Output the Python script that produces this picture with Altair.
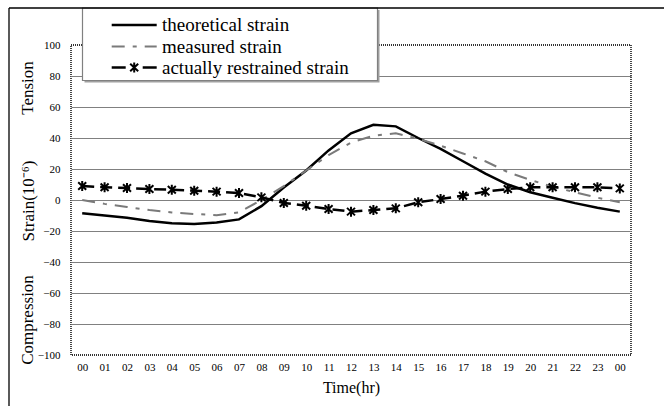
import json
import altair as alt
import pandas as pd

hours = ["00", "01", "02", "03", "04", "05", "06", "07", "08", "09", "10", "11",
         "12", "13", "14", "15", "16", "17", "18", "19", "20", "21", "22", "23", "00"]
theoretical = [-8.5, -10, -11.5, -13.5, -15, -15.5, -14.5, -12.5, -4, 8, 19, 32,
               43, 48.5, 47.5, 40, 33, 25, 17, 10, 5, 1.5, -2, -5, -7.5]
measured = [0, -2.5, -4.5, -6.5, -8, -9, -9.8, -8, 0, 9, 19, 29,
            37, 41.5, 43, 39.5, 35, 30, 25, 18, 13, 8.5, 5, 1.5, -1.5]
restrained = [9, 8.2, 7.7, 7.1, 6.6, 6, 5.4, 4.5, 1.7, -1.9, -3.7, -5.8,
              -7.5, -6.5, -5.4, -1.5, 0.6, 2.8, 5.4, 7.1, 8.2, 8.2, 8.2, 8.2, 7.5]
series_names = ["theoretical strain", "measured strain", "actually restrained strain"]
y_ticks = [-100, -80, -60, -40, -20, 0, 20, 40, 60, 80, 100]

idx = list(range(len(hours)))
df = pd.DataFrame({
    "idx": idx * 3,
    "value": theoretical + measured + restrained,
    "series": [series_names[0]] * len(idx) + [series_names[1]] * len(idx) + [series_names[2]] * len(idx),
})

FONT = "Liberation Serif"
STAR = "M0,-1L0,1M-0.8,-0.75L0.8,0.75M-0.8,0.75L0.8,-0.75"

X = alt.X("idx:Q",
          scale=alt.Scale(domain=[-0.5, len(hours) - 0.5], nice=False, zero=False),
          axis=alt.Axis(values=idx, labelExpr=f"{json.dumps(hours)}[datum.value]",
                        grid=False, ticks=False, domain=False, labelPadding=6,
                        labelFont=FONT, labelFontSize=11, labelColor="black",
                        title="Time(hr)", titleFont=FONT, titleFontSize=16,
                        titleFontWeight="normal", titleColor="black", titlePadding=7))
Y = alt.Y("value:Q",
          scale=alt.Scale(domain=[-100, 100], nice=False),
          axis=alt.Axis(values=y_ticks, grid=True, gridColor="#808080", gridWidth=1,
                        gridOpacity={"condition": {"test": "abs(datum.value) == 100", "value": 0}, "value": 1},
                        ticks=False, domain=False, labelPadding=11,
                        labelFont=FONT, labelFontSize=11, labelColor="black", title=None))

base = alt.Chart(df)
theo = base.transform_filter(alt.datum.series == series_names[0]).mark_line(
    color="black", strokeWidth=2.5).encode(x=X, y=Y)
meas = base.transform_filter(alt.datum.series == series_names[1]).mark_line(
    color="#7a7a7a", strokeWidth=2, strokeDash=[13, 8, 4, 8]).encode(x=X, y=Y)
rest = base.transform_filter(alt.datum.series == series_names[2]).mark_line(
    color="black", strokeWidth=2.5, strokeDash=[12, 6]).encode(x=X, y=Y)
rest_pts = base.transform_filter(alt.datum.series == series_names[2]).mark_point(
    shape=STAR, size=100, filled=False, stroke="black", strokeWidth=2, opacity=1).encode(x=X, y=Y)

one = pd.DataFrame({"k": [0]})
deco = alt.Chart(one)

# legend box
shadow = deco.mark_rect(fill="#a0a0a0").encode(
    x=alt.value(13.5), x2=alt.value(308.5), y=alt.value(-35), y2=alt.value(37.5))
box = deco.mark_rect(fill="white", stroke="#808080", strokeWidth=1.2).encode(
    x=alt.value(11.5), x2=alt.value(306.5), y=alt.value(-37), y2=alt.value(35.5))
row_y = [-20, 1.5, 22.5]
leg1 = deco.mark_rule(color="black", strokeWidth=2.5).encode(
    x=alt.value(40.7), x2=alt.value(85.7), y=alt.value(row_y[0]))
leg2 = deco.mark_rule(color="#7a7a7a", strokeWidth=2, strokeDash=[13, 8, 4, 8]).encode(
    x=alt.value(40.7), x2=alt.value(85.7), y=alt.value(row_y[1]))
leg3 = deco.mark_rule(color="black", strokeWidth=2.5, strokeDash=[14, 17, 14]).encode(
    x=alt.value(40.7), x2=alt.value(85.7), y=alt.value(row_y[2]))
leg3p = deco.mark_point(shape=STAR, size=100, filled=False, stroke="black", strokeWidth=2, opacity=1).encode(
    x=alt.value(63.2), y=alt.value(row_y[2]))
legtexts = [deco.mark_text(text=series_names[i], font=FONT, fontSize=19, align="left",
                           baseline="middle", color="black").encode(
    x=alt.value(91), y=alt.value(row_y[i])) for i in range(3)]

# outer frame
frame_top = deco.mark_rule(color="black", strokeWidth=1.3).encode(
    x=alt.value(-62), x2=alt.value(593), y=alt.value(-37))
frame_left = deco.mark_rule(color="black", strokeWidth=1.3).encode(
    x=alt.value(-62), y=alt.value(-37), y2=alt.value(361))

# y titles
ytitles = [
    deco.mark_text(text="Tension", font=FONT, fontSize=17, angle=270, align="center",
                   baseline="middle", color="black").encode(x=alt.value(-43), y=alt.value(43)),
    deco.mark_text(text="Strain(10\u207b\u2076)", font=FONT, fontSize=17, angle=270, align="center",
                   baseline="middle", color="black").encode(x=alt.value(-42), y=alt.value(156)),
    deco.mark_text(text="Compression", font=FONT, fontSize=17, angle=270, align="center",
                   baseline="middle", color="black").encode(x=alt.value(-43), y=alt.value(275)),
]

chart = alt.layer(
    theo, meas, rest, rest_pts, shadow, box, leg1, leg2, leg3, leg3p, *legtexts,
    frame_top, frame_left, *ytitles
).properties(
    width=560, height=310,
    padding={"left": 71, "top": 45, "right": 33, "bottom": 51},
    autosize=alt.AutoSizeParams(type="none"),
    background="white",
).configure_view(
    stroke="#333333", strokeWidth=1.8, strokeDash=[1, 1], fill="white"
)

chart.save("out.html", embed_options={"renderer": "svg", "actions": False})
